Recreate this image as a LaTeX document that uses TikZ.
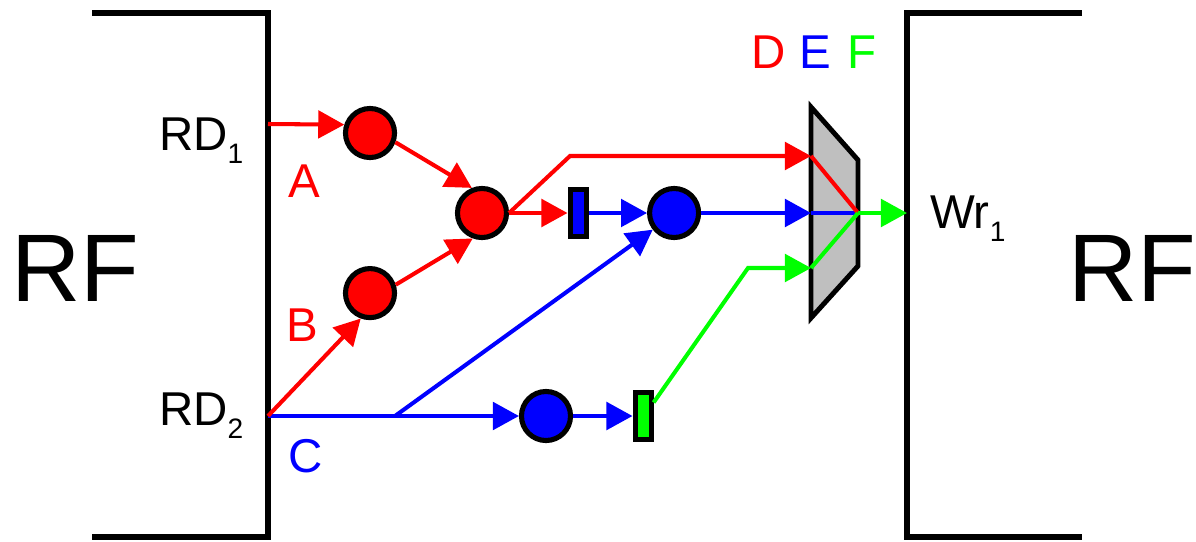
\documentclass[tikz,border=0pt]{standalone}
\usepackage{fontspec}
\setmainfont{Liberation Sans}
\usetikzlibrary{arrows.meta}
\usetikzlibrary{positioning}
\newcommand{\lowsub}[1]{\raisebox{-3.8pt}{\fontsize{8pt}{8pt}\selectfont #1}}

\begin{document}
\begin{tikzpicture}
		[x=0.01cm, y=-0.01cm, node distance={9.6mm}, line width=1.15pt,
		fu/.style = {draw, circle, line width=1.45pt, minimum size=4.9mm, inner sep=0},
		latch/.style = {draw, rectangle, line width=1.45pt, minimum width=1.6mm, minimum height=4.7mm, inner sep=0},
		lbl/.style = {anchor=base west, inner sep=0, font=\fontsize{13.5pt}{14pt}\selectfont},
		big/.style = {anchor=base west, inner sep=0, font=\fontsize{27.3pt}{28pt}\selectfont},
		arr/.style = {-{Triangle[length=7.4pt, width=7.8pt]}},
		wall/.style = {line width=1.9pt}]
	\useasboundingbox (0,0) rectangle (1196,542);
	% register files
	\draw[wall] (92,13) -- (268,13) -- (268,537) -- (92,537);
	\draw[wall] (1082,13) -- (907,13) -- (907,537) -- (1082,537);
	\node[big] (rfl) at (9,301) {RF};
	\node[big] (rfr) at (1066,301) {RF};
	\node[lbl] (rd1l) at (157,150) {RD\lowsub{1}};
	\node[lbl] (rd2l) at (157,425) {RD\lowsub{2}};
	\node[lbl] (wrl) at (928,228) {Wr\lowsub{1}};
	\node[lbl, red] (la) at (286,197) {A};
	\node[lbl, red] (lb) at (284,341) {B};
	\node[lbl, blue] (lc) at (286,472) {C};
	\node[lbl, red] (ld) at (749,68) {D};
	\node[lbl, blue] (le) at (797,68) {E};
	\node[lbl, green] (lf) at (845,68) {F};
	\coordinate (rd1) at (268,124);
	\coordinate (rd2) at (268,416);
	\coordinate (wr) at (907,213);
	% units
	\node[fu, fill=red] (a1) at (370,133) {};
	\node[fu, fill=red] (b1) [node distance=16mm, below of = a1] {};
	\node[fu, fill=red] (ab) at (482,213) {};
	\node[latch, fill=blue] (r1) [right of = ab] {};
	\node[fu, fill=blue] (e1) [right of = r1] {};
	\node[fu, fill=blue] (c1) at (546,416) {};
	\node[latch, fill=green] (r2) [node distance=9.7mm, right of = c1] {};
	% mux
	\filldraw[fill=gray!50, line width=1.4pt] (811,107) -- (858,160) -- (858,266) -- (811,318) -- cycle;
	\coordinate (mD) at (811,156);
	\coordinate (mE) at (811,213);
	\coordinate (mF) at (811,268);
	\coordinate (mout) at (858,213);
	\coordinate (br) at (395,416);
	\coordinate (bend1) at (570,156);
	\coordinate (bend2) at (748,268);
	% connectors
	\draw[red, arr] (rd1) -- (a1.162);
	\draw[blue, arr] (rd2) -- (c1.west);
	\draw[blue, arr] (br) -- (e1.218);
	\draw[red, arr] (rd2) -- (b1.250);
	\draw[red, arr] (a1.-20) -- (ab.112);
	\draw[red, arr] (b1.18) -- (ab.250);
	\draw[red, arr] (ab.east) -- (r1.west);
	\draw[red, arr] (ab.east) -- (bend1) -- (mD);
	\draw[blue, arr] (r1.east) -- (e1.west);
	\draw[blue, arr] (e1.east) -- (mE);
	\draw[blue, arr] (c1.east) -- (r2.west);
	\draw[green, arr] (r2.52) -- (bend2) -- (mF);
	\draw[blue] (mE) -- (mout);
	\draw[red] (mD) -- (mout);
	\draw[green] (mF) -- (mout);
	\draw[green, arr] (mout) -- (wr);
\end{tikzpicture}
\end{document}
